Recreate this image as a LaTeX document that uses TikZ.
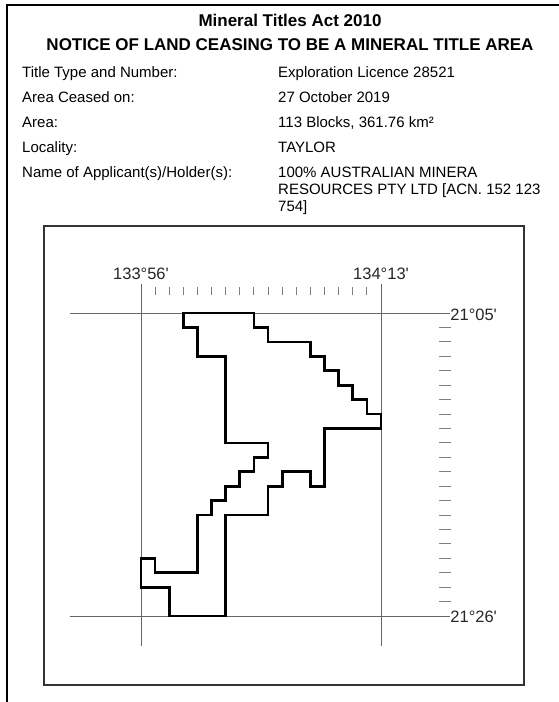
\documentclass[tikz,border=0pt]{standalone}
\usepackage{fontspec}
\setmainfont{Liberation Sans}
\usepackage{tikz}
\tikzstyle{heading}=[inner sep=0pt, font=\bfseries\fontsize{17}{20}\selectfont]
\tikzstyle{field}=[anchor=base west, inner sep=0pt, font=\fontsize{15}{17.25}\selectfont]
\tikzstyle{coord}=[inner sep=0pt, text=black!85, font=\fontsize{16.5}{18}\selectfont]
\tikzstyle{gridline}=[draw=black!60, line width=1pt]
\tikzstyle{tick}=[draw=black!50, line width=1pt]
\tikzstyle{boundary}=[draw=black, line width=2.7pt, line join=miter]

\begin{document}
\begin{tikzpicture}[x=1pt, y=-1pt]
		   \useasboundingbox (0,0) rectangle (559,702);
		   \draw[line width=2.5pt] (559,5) -- (7,5) -- (7,702);
		   \begin{scope}
			   \node (h1) at (290,20)[heading] {Mineral Titles Act 2010};
			   \node (h2) at (290,45)[heading] {NOTICE OF LAND CEASING TO BE A MINERAL TITLE AREA};
			   \node (k1) at (22,77.5)[field] {Title Type and Number:};
			   \node (k2) at (22,102.5)[field] {Area Ceased on:};
			   \node (k3) at (22,127.5)[field] {Area:};
			   \node (k4) at (22,152.5)[field] {Locality:};
			   \node (k5) at (22,177.5)[field] {Name of Applicant(s)/Holder(s):};
			   \node (v1) at (278,77.5)[field] {Exploration Licence 28521};
			   \node (v2) at (278,102.5)[field] {27 October 2019};
			   \node (v3) at (278,127.5)[field] {113 Blocks, 361.76 km²};
			   \node (v4) at (278,152.5)[field] {TAYLOR};
			   \node (v5) at (278,166.5)[field, anchor=north west, align=left] {100\% AUSTRALIAN MINERA\\RESOURCES PTY LTD [ACN. 152 123\\754]};
		   \end{scope}
		   \draw[draw=black!80, line width=1.3pt] (44,226) rectangle (524,685);
		   \begin{scope}[shift={(141,313)}, x=14.12pt, y=-14.43pt]
			   \draw[gridline] (0,-2) -- (0,23.1);
			   \draw[gridline] (17,-2) -- (17,23.1);
			   \draw[gridline] (-5,0) -- (21.9,0);
			   \draw[gridline] (-5,21) -- (21.9,21);
			   \draw[tick] (1,-1.8) -- (1,-1.25) (2,-1.8) -- (2,-1.25) (3,-1.8) -- (3,-1.25) (4,-1.8) -- (4,-1.25);
			   \draw[tick] (5,-1.8) -- (5,-1.25) (6,-1.8) -- (6,-1.25) (7,-1.8) -- (7,-1.25) (8,-1.8) -- (8,-1.25);
			   \draw[tick] (9,-1.8) -- (9,-1.25) (10,-1.8) -- (10,-1.25) (11,-1.8) -- (11,-1.25) (12,-1.8) -- (12,-1.25);
			   \draw[tick] (13,-1.8) -- (13,-1.25) (14,-1.8) -- (14,-1.25) (15,-1.8) -- (15,-1.25) (16,-1.8) -- (16,-1.25);
			   \draw[tick] (21.1,1) -- (21.95,1) (21.1,2) -- (21.95,2) (21.1,3) -- (21.95,3) (21.1,4) -- (21.95,4) (21.1,5) -- (21.95,5);
			   \draw[tick] (21.1,6) -- (21.95,6) (21.1,7) -- (21.95,7) (21.1,8) -- (21.95,8) (21.1,9) -- (21.95,9) (21.1,10) -- (21.95,10);
			   \draw[tick] (21.1,11) -- (21.95,11) (21.1,12) -- (21.95,12) (21.1,13) -- (21.95,13) (21.1,14) -- (21.95,14) (21.1,15) -- (21.95,15);
			   \draw[tick] (21.1,16) -- (21.95,16) (21.1,17) -- (21.95,17) (21.1,18) -- (21.95,18) (21.1,19) -- (21.95,19) (21.1,20) -- (21.95,20);
			   \node (w) at (0,-2.7)[coord] {133°56\textquotesingle};
			   \node (e) at (17,-2.7)[coord] {134°13\textquotesingle};
			   \node (n) at (21.9,0.1)[coord, anchor=west] {21°05\textquotesingle};
			   \node (s) at (21.9,21.05)[coord, anchor=west] {21°26\textquotesingle};
			   \draw[boundary] (3,0) -- (8,0) -- (8,1) -- (9,1) -- (9,2) -- (12,2) -- (12,3) -- (13,3) -- (13,4) -- (14,4) -- (14,5) -- (15,5) -- (15,6) -- (16,6) -- (16,7) -- (17,7) -- (17,8) -- (13,8) -- (13,12) -- (12,12) -- (12,11) -- (10,11) -- (10,12) -- (9,12) -- (9,14) -- (6,14) -- (6,21) -- (2,21) -- (2,19) -- (0,19) -- (0,17) -- (1,17) -- (1,18) -- (4,18) -- (4,14) -- (5,14) -- (5,13) -- (6,13) -- (6,12) -- (7,12) -- (7,11) -- (8,11) -- (8,10) -- (9,10) -- (9,9) -- (6,9) -- (6,3) -- (4,3) -- (4,1) -- (3,1) -- cycle;
		   \end{scope}
	   \end{tikzpicture}
\end{document}
